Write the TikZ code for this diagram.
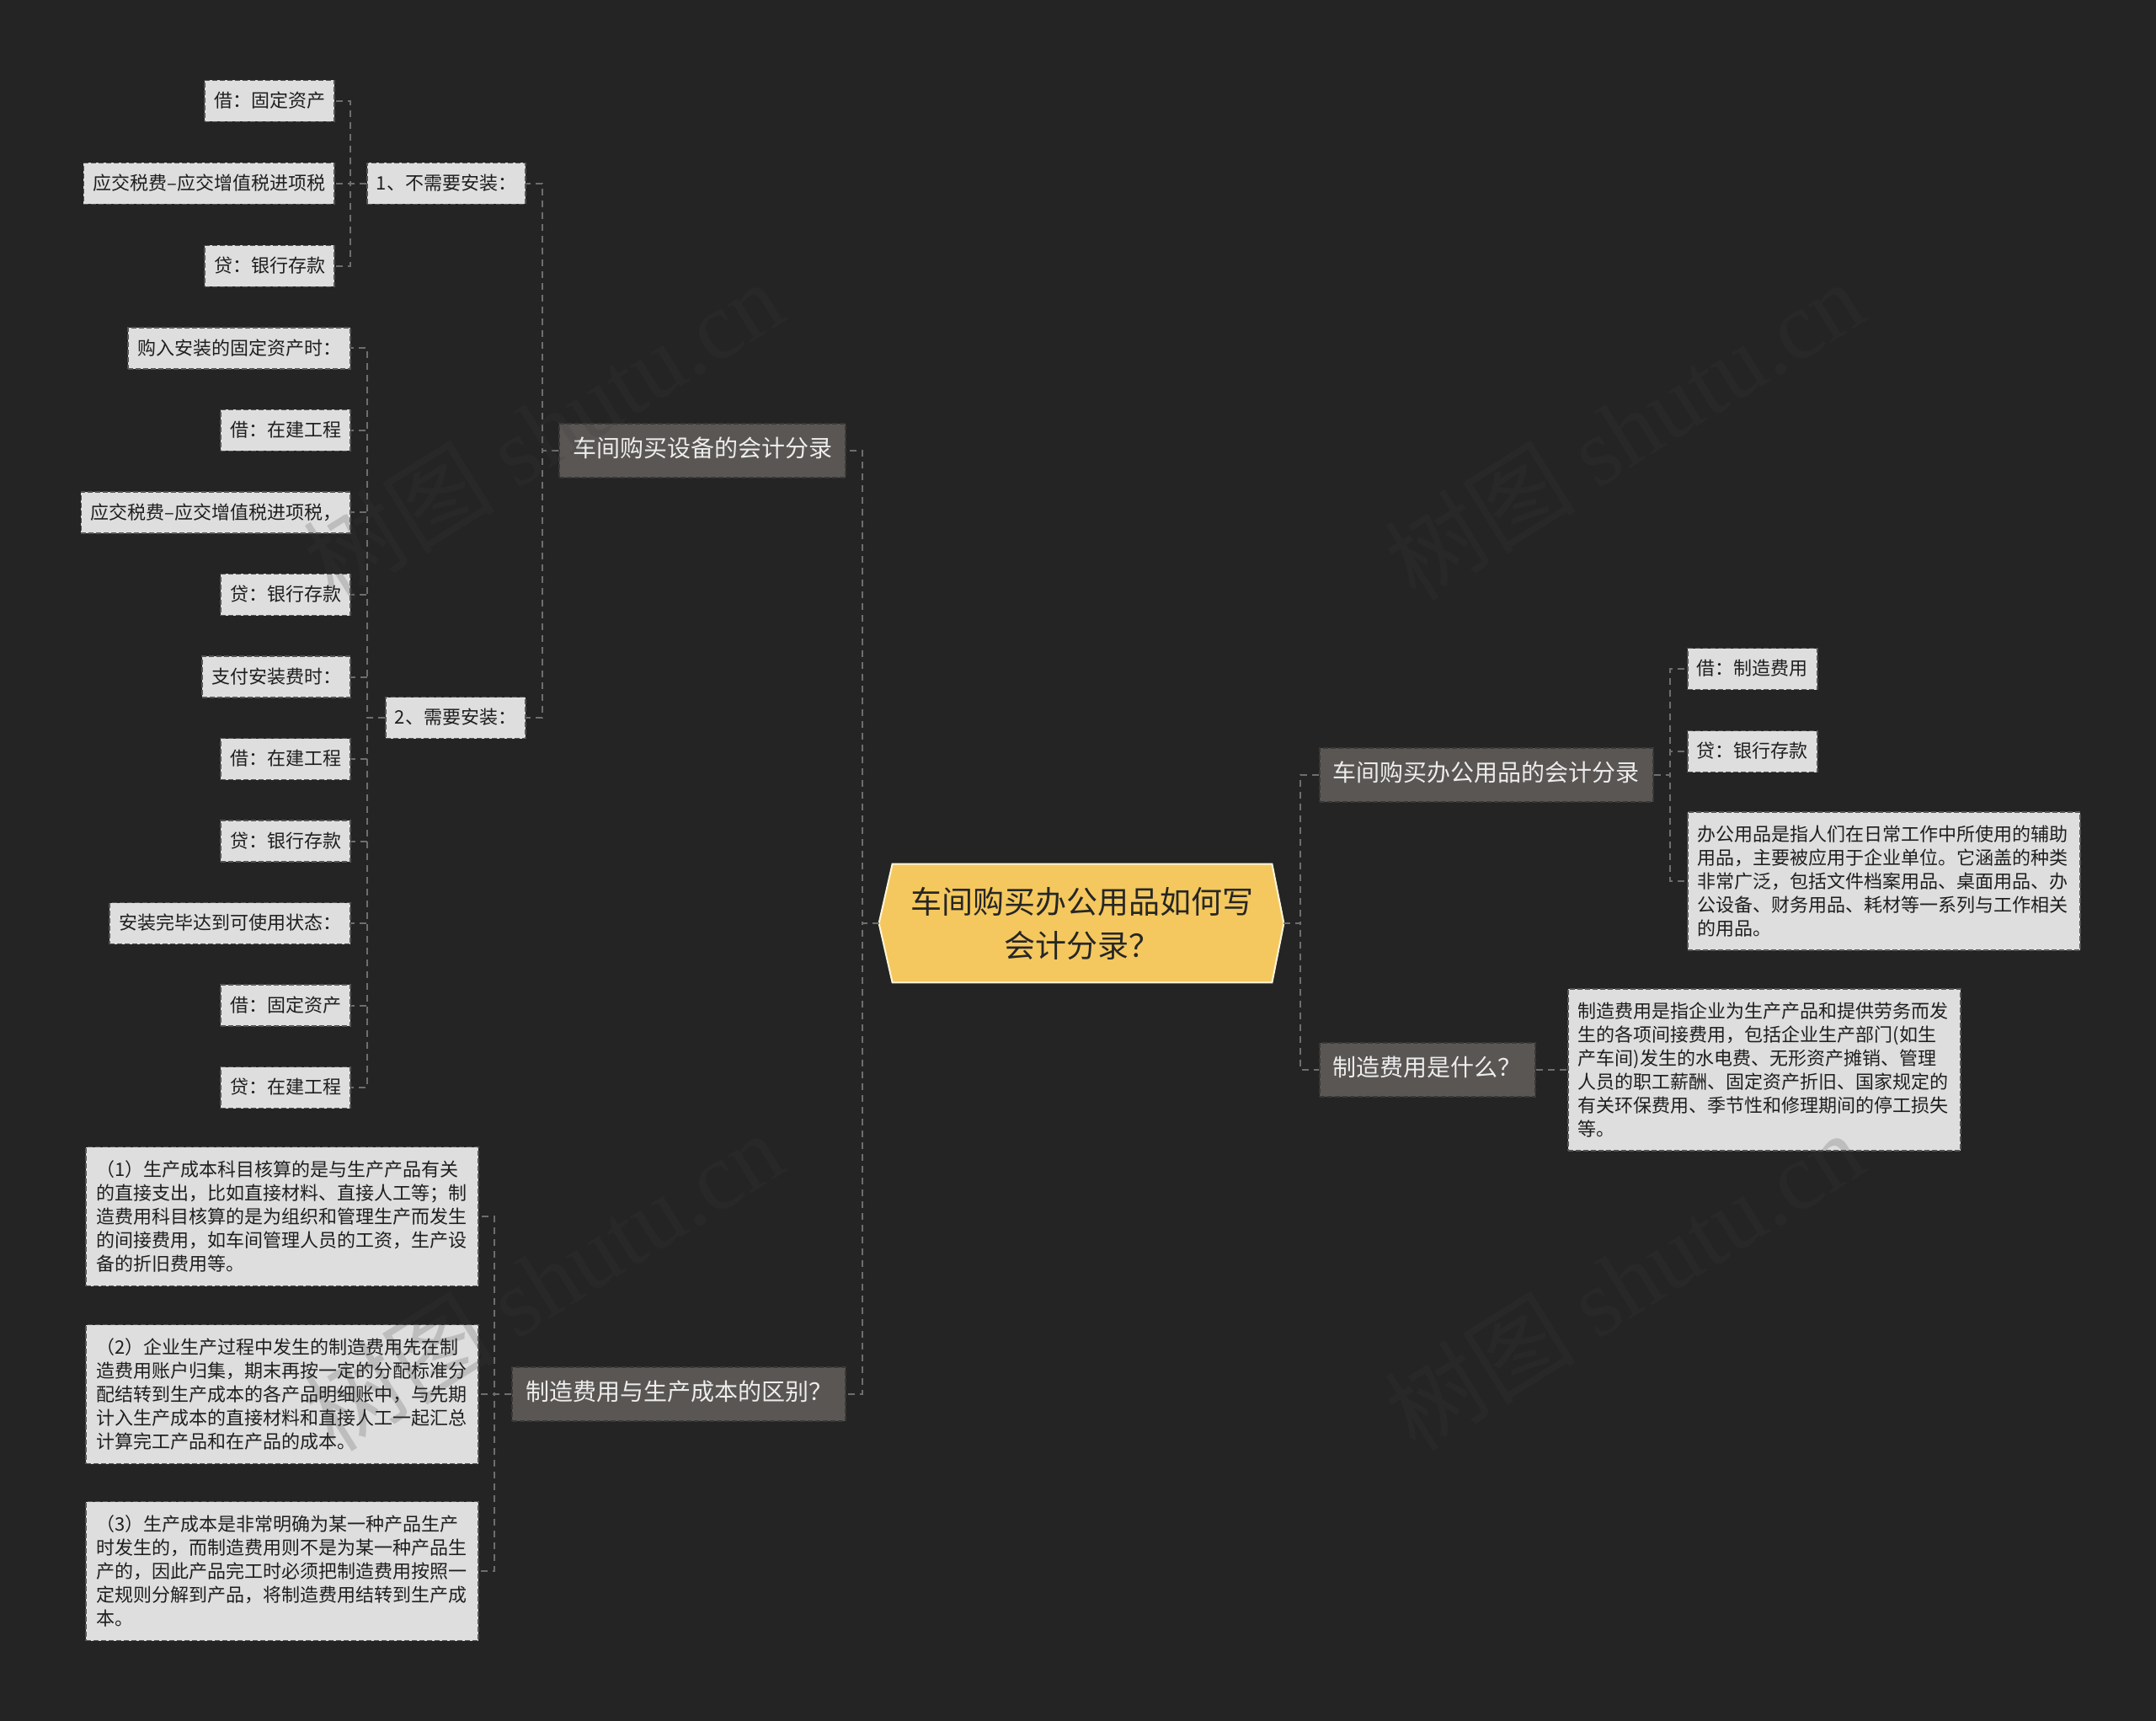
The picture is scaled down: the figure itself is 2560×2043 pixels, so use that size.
\documentclass[tikz,border=0pt]{standalone}
\usepackage{fontspec}
\setmainfont{Noto Sans CJK SC}
\newfontfamily\wmlatin{Liberation Serif}
\usetikzlibrary{calc,backgrounds}
\definecolor{bgc}{HTML}{242424}
\definecolor{connc}{HTML}{6E6E6E}
\definecolor{rootfill}{HTML}{F4C85E}
\definecolor{rootline}{HTML}{FFF6DC}
\definecolor{branchfill}{HTML}{5A5654}
\definecolor{branchline}{HTML}{3A3837}
\definecolor{leaffill}{HTML}{DEDEDE}
\definecolor{leafline}{HTML}{555555}
\definecolor{wmc}{HTML}{3C3C3C}
\begin{document}
\begin{tikzpicture}[x=0.5pt,y=-0.5pt,
  connector/.style={draw=connc, line width=1pt, dash pattern=on 4pt off 3pt},
  boxbase/.style={line width=0.8pt, dash pattern=on 3pt off 1.5pt},
  branchbox/.style={boxbase, fill=branchfill, draw=branchline,
    font=\fontsize{14pt}{17pt}\selectfont, text=white!93!black,
    inner xsep=8pt, inner ysep=0pt, minimum height=32pt,
    text height=0.88em, text depth=0.12em},
  leafbox/.style={boxbase, fill=leaffill, draw=leafline,
    font=\fontsize{11pt}{14pt}\selectfont, text=black!88,
    inner xsep=5.5pt, inner ysep=0pt, minimum height=24.5pt,
    text height=0.88em, text depth=0.12em},
  notebox/.style={boxbase, fill=leaffill, draw=leafline,
    font=\fontsize{11pt}{14pt}\selectfont, text=black!88,
    align=left, text width=221pt, inner xsep=6pt, inner ysep=7pt},
  rootnode/.style={minimum width=225pt, minimum height=70pt, inner sep=0pt,
    align=center, font=\fontsize{18.5pt}{26pt}\selectfont, text=black!85},
  wmark/.style={text=wmc, opacity=0.2, rotate=32,
    font=\fontsize{57pt}{66pt}\selectfont}
]
\begin{scope}[on background layer]
  \fill[bgc] (0,0) rectangle (2560,2043);
\end{scope}
\useasboundingbox (0,0) rectangle (2560,2043);

% root
\node[rootnode] (root) at (1285,1096) {车间购买办公用品如何写\\会计分录？};
\coordinate (rootL) at ($(root.west)+(-16,0)$);
\coordinate (rootR) at ($(root.east)+(14,0)$);
\begin{scope}[on background layer]
  \filldraw[fill=rootfill, draw=rootline, line width=1pt]
    (root.north west) -- (root.north east) -- (rootR) -- (root.south east)
    -- (root.south west) -- (rootL) -- cycle;
\end{scope}

% main branches
\node[branchbox, anchor=east] (b1) at (1005,535) {车间购买设备的会计分录};
\node[branchbox, anchor=east] (b2) at (1005,1655) {制造费用与生产成本的区别？};
\node[branchbox, anchor=west] (b3) at (1566,920) {车间购买办公用品的会计分录};
\node[branchbox, anchor=west] (b4) at (1566,1270) {制造费用是什么？};

% second level under b1
\node[leafbox, anchor=east] (s1) at (625,218) {1、不需要安装：};
\node[leafbox, anchor=east] (s2) at (625,852) {2、需要安装：};

% leaves of s1
\node[leafbox, anchor=east] (a1) at (398,120) {借：固定资产};
\node[leafbox, anchor=east] (a2) at (398,218) {应交税费–应交增值税进项税};
\node[leafbox, anchor=east] (a3) at (398,316) {贷：银行存款};

% leaves of s2
\node[leafbox, anchor=east] (c1) at (417,413.5) {购入安装的固定资产时：};
\node[leafbox, anchor=east] (c2) at (417,511) {借：在建工程};
\node[leafbox, anchor=east] (c3) at (417,608.5) {应交税费–应交增值税进项税，};
\node[leafbox, anchor=east] (c4) at (417,706) {贷：银行存款};
\node[leafbox, anchor=east] (c5) at (417,803.5) {支付安装费时：};
\node[leafbox, anchor=east] (c6) at (417,901) {借：在建工程};
\node[leafbox, anchor=east] (c7) at (417,998.5) {贷：银行存款};
\node[leafbox, anchor=east] (c8) at (417,1096) {安装完毕达到可使用状态：};
\node[leafbox, anchor=east] (c9) at (417,1193.5) {借：固定资产};
\node[leafbox, anchor=east] (c10) at (417,1291) {贷：在建工程};

% notes of b2
\node[notebox, anchor=east, minimum height=82.5pt] (d1) at (569,1444)
  {（1）生产成本科目核算的是与生产产品有关\\的直接支出，比如直接材料、直接人工等；制\\造费用科目核算的是为组织和管理生产而发生\\的间接费用，如车间管理人员的工资，生产设\\备的折旧费用等。};
\node[notebox, anchor=east, minimum height=82.5pt] (d2) at (569,1655)
  {（2）企业生产过程中发生的制造费用先在制\\造费用账户归集，期末再按一定的分配标准分\\配结转到生产成本的各产品明细账中，与先期\\计入生产成本的直接材料和直接人工一起汇总\\计算完工产品和在产品的成本。};
\node[notebox, anchor=east, minimum height=82.5pt] (d3) at (569,1865)
  {（3）生产成本是非常明确为某一种产品生产\\时发生的，而制造费用则不是为某一种产品生\\产的，因此产品完工时必须把制造费用按照一\\定规则分解到产品，将制造费用结转到生产成\\本。};

% leaves of b3
\node[leafbox, anchor=west] (e1) at (2003,794) {借：制造费用};
\node[leafbox, anchor=west] (e2) at (2003,892) {贷：银行存款};
\node[notebox, anchor=west, minimum height=82pt] (e3) at (2003,1046)
  {办公用品是指人们在日常工作中所使用的辅助\\用品，主要被应用于企业单位。它涵盖的种类\\非常广泛，包括文件档案用品、桌面用品、办\\公设备、财务用品、耗材等一系列与工作相关\\的用品。};

% note of b4
\node[notebox, anchor=west, minimum height=96pt] (f1) at (1861,1270)
  {制造费用是指企业为生产产品和提供劳务而发\\生的各项间接费用，包括企业生产部门(如生\\产车间)发生的水电费、无形资产摊销、管理\\人员的职工薪酬、固定资产折旧、国家规定的\\有关环保费用、季节性和修理期间的停工损失\\等。};

% connectors
\draw[connector] (rootL) -- ++(-20,0) |- (b1.east);
\draw[connector] (rootL) -- ++(-20,0) |- (b2.east);
\draw[connector] (rootR) -- ++(20,0) |- (b3.west);
\draw[connector] (rootR) -- ++(20,0) |- (b4.west);

\foreach \c in {s1,s2} \draw[connector] (b1.west) -- ++(-19,0) |- (\c.east);
\foreach \c in {a1,a2,a3} \draw[connector] (s1.west) -- ++(-19,0) |- (\c.east);
\foreach \c in {c1,c2,c3,c4,c5,c6,c7,c8,c9,c10} \draw[connector] (s2.west) -- ++(-21,0) |- (\c.east);
\foreach \c in {d1,d2,d3} \draw[connector] (b2.west) -- ++(-20,0) |- (\c.east);
\foreach \c in {e1,e2,e3} \draw[connector] (b3.east) -- ++(19,0) |- (\c.west);
\draw[connector] (b4.east) -- (f1.west);

% watermarks
\node[wmark] (wm1) at (645,510) {树图 {\wmlatin shutu.cn}};
\node[wmark] (wm2) at (1928,510) {树图 {\wmlatin shutu.cn}};
\node[wmark] (wm3) at (645,1520) {树图 {\wmlatin shutu.cn}};
\node[wmark] (wm4) at (1928,1520) {树图 {\wmlatin shutu.cn}};
\end{tikzpicture}
\end{document}
